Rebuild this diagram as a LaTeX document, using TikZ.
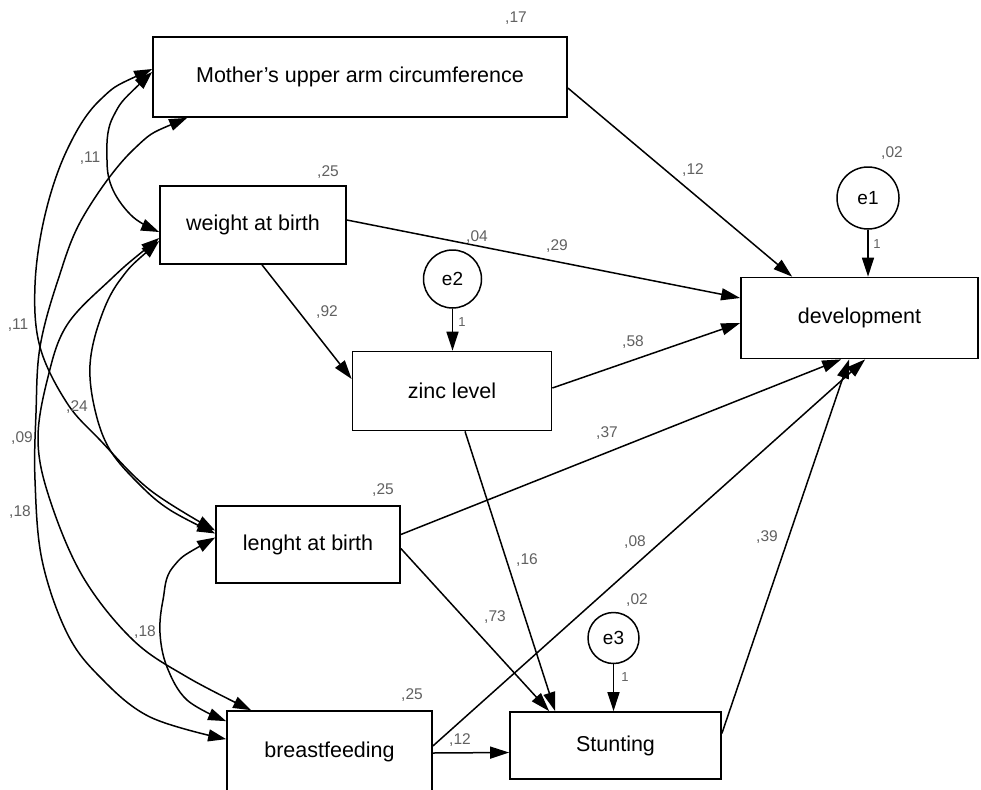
\documentclass[tikz,border=0pt]{standalone}
\usepackage{fontspec}
\setmainfont{Liberation Sans}
\usetikzlibrary{arrows.meta,calc}
\begin{document}
\begin{tikzpicture}[x=1pt,y=-1pt,
  box/.style={draw, line width=1.7pt, inner sep=0pt, fill=white, font=\fontsize{21.5}{24}\selectfont},
  err/.style={draw, circle, line width=1.5pt, inner sep=0pt, fill=white, font=\fontsize{19}{22}\selectfont},
  reg/.style={line width=1.5pt, -{Triangle[length=19pt,width=12pt]}},
  cov/.style={line width=1.5pt, {Triangle[length=18pt,width=12pt]}-{Triangle[length=18pt,width=12pt]}},
  lab/.style={text=black!62, font=\fontsize{15.5}{18}\selectfont, inner sep=0pt},
  one/.style={text=black!62, font=\fontsize{13}{15}\selectfont, inner sep=0pt},
]
\useasboundingbox (0,0) rectangle (981,789);
\clip (0,0) rectangle (981,789);
\fill[white] (0,0) rectangle (981,789);

% variables
\node[box, minimum width=414pt, minimum height=80pt] (m) at (360,77) {Mother’s upper arm circumference};
\node[box, minimum width=186pt, minimum height=78pt] (w) at (253,225) {weight at birth};
\node[box, minimum width=199pt, minimum height=79pt] (z) at (452,391) {zinc level};
\node[box, minimum width=237pt, minimum height=81pt] (d) at (859.5,318) {development};
\node[box, minimum width=184pt, minimum height=77pt] (l) at (308,544.5) {lenght at birth};
\node[box, minimum width=205pt, minimum height=82pt] (bf) at (329.5,752) {breastfeeding};
\node[box, minimum width=211pt, minimum height=67pt] (s) at (615.5,745.5) {Stunting};

% errors
\node[err, minimum size=62pt] (e1) at (868,198) {e1};
\node[err, minimum size=58pt] (e2) at (452.5,279) {e2};
\node[err, minimum size=51pt] (e3) at (613.5,638) {e3};

% regression paths
\draw[reg] ($(m.east)+(0,11)$) -- ($(d.north west)+(52,0)$);
\draw[reg] ($(w.east)+(0,-5)$) -- ($(d.west)+(0,-20)$);
\draw[reg] ($(z.east)+(0,-3)$) -- ($(d.west)+(0,5)$);
\draw[reg] (e1.south) -- (e1.south |- d.north);
\draw[reg] ($(w.south)+(9,0)$) -- ($(z.west)+(0,-12)$);
\draw[reg] (e2.south) -- (e2.south |- z.north);
\draw[reg] ($(z.south)+(13,0)$) -- ($(s.north west)+(46,0)$);
\draw[reg] ($(l.east)+(0,-10)$) -- ($(d.south west)+(101,0)$);
\draw[reg] ($(l.east)+(0,4)$) -- ($(s.north west)+(40,0)$);
\draw[reg] ($(bf.east)+(0,-6)$) -- ($(d.south west)+(125,0)$);
\draw[reg] ($(bf.east)+(0,1)$) -- ($(s.west)+(0,7)$);
\draw[reg] ($(s.east)+(0,-12)$) -- ($(d.south west)+(109,0)$);
\draw[reg] (e3.south) -- (e3.south |- s.north);

% covariance end points
\coordinate (mA) at ($(m.west)+(0,-8)$);
\coordinate (mB) at ($(m.west)+(0,-5)$);
\coordinate (mC) at ($(m.south west)+(35,0)$);
\coordinate (wB) at ($(w.west)+(0,7)$);
\coordinate (wD) at ($(w.west)+(0,13)$);
\coordinate (wE) at ($(w.west)+(0,16)$);
\coordinate (lA) at ($(l.west)+(0,-14)$);
\coordinate (lE) at ($(l.west)+(0,-11)$);
\coordinate (lF) at ($(l.west)+(0,-7)$);
\coordinate (bD) at ($(bf.north west)+(25,0)$);
\coordinate (bF) at ($(bf.north west)+(0,11)$);
\coordinate (bC) at ($(bf.north west)+(0,29)$);

% covariances
\draw[cov] plot[smooth, tension=0.6] coordinates {(mA) (100,100) (67,150) (45,215) (35,285) (40,347) (67,403) (100,440) (150,490) (lA)};
\draw[cov] plot[smooth, tension=0.6] coordinates {(mB) (113,117) (107,160) (113,190) (133,217) (wB)};
\draw[cov] plot[smooth, tension=0.6] coordinates {(mC) (133,150) (83,217) (58,280) (40,347) (36,413) (35,480) (42,560) (67,633) (100,677) (150,717) (bC)};
\draw[cov] plot[smooth, tension=0.6] coordinates {(wD) (110,280) (67,325) (48,377) (38,440) (50,500) (83,577) (133,640) (187,677) (bD)};
\draw[cov] plot[smooth, tension=0.6] coordinates {(wE) (120,280) (100,320) (90,365) (95,410) (110,450) (140,485) (170,510) (lE)};
\draw[cov] plot[smooth, tension=0.6] coordinates {(lF) (173,567) (163,600) (160,633) (167,667) (187,700) (bF)};

% labels
\node[lab] (t1) at (516,18) {,17};
\node[lab] (t2) at (328,172) {,25};
\node[lab] (t3) at (693,170) {,12};
\node[lab] (t4) at (477,237) {,04};
\node[lab] (t5) at (557,246) {,29};
\node[lab] (t6) at (327,312) {,92};
\node[lab] (t7) at (633,342) {,58};
\node[lab] (t8) at (892,153) {,02};
\node[lab] (t9) at (607,433) {,37};
\node[lab] (t10) at (383,490) {,25};
\node[lab] (t11) at (527,560) {,16};
\node[lab] (t12) at (635,542) {,08};
\node[lab] (t13) at (767,537) {,39};
\node[lab] (t14) at (637,600) {,02};
\node[lab] (t15) at (495,617) {,73};
\node[lab] (t16) at (412,695) {,25};
\node[lab] (t17) at (460,740) {,12};
\node[lab] (t18) at (90,158) {,11};
\node[lab] (t19) at (18,325) {,11};
\node[lab] (t20) at (77,407) {,24};
\node[lab] (t21) at (22,438) {,09};
\node[lab] (t22) at (20,512) {,18};
\node[lab] (t23) at (145,632) {,18};
\node[one] (o1) at (877,244) {1};
\node[one] (o2) at (462,322) {1};
\node[one] (o3) at (625,677) {1};
\end{tikzpicture}
\end{document}
